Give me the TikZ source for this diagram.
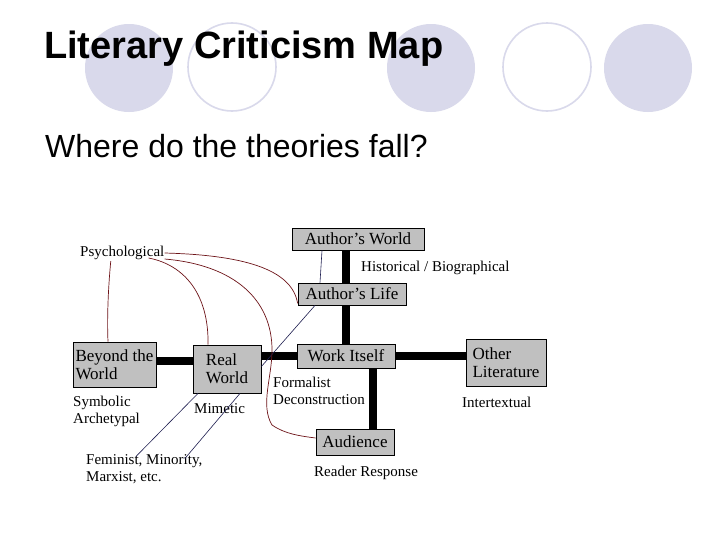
\documentclass[tikz,border=0pt]{standalone}
\usepackage{fontspec}
\setmainfont{Liberation Serif}
\newfontfamily\arialfont{Liberation Sans}
\usetikzlibrary{calc}
\pgfdeclarelayer{bg}
\pgfsetlayers{bg,main}
\definecolor{lav}{RGB}{217,217,235}
\definecolor{boxgray}{RGB}{192,192,192}
\definecolor{maroonline}{RGB}{110,20,25}
\definecolor{navyline}{RGB}{30,30,80}
\tikzset{
  box/.style={draw=black, line width=0.8pt, fill=boxgray, inner sep=0pt, font=\fontsize{17}{18}\selectfont, align=left},
  lbl/.style={inner sep=0pt, anchor=west, font=\fontsize{15}{17}\selectfont, align=left},
  bar/.style={line width=8pt, black},
  redline/.style={draw=maroonline, line width=0.7pt},
  blueline/.style={draw=navyline, line width=0.6pt},
  disc/.style={fill=lav, draw=none},
  ring/.style={draw=lav, line width=1.6pt},
}
\begin{document}
\begin{tikzpicture}[x=1pt,y=-1pt]
\useasboundingbox (0,0) rectangle (728,546);
\begin{pgfonlayer}{bg}
\fill[white] (0,0) rectangle (728,546);
\end{pgfonlayer}
% decorative circles
\fill[disc] (129,68) circle (44);
\draw[ring] (232,67) circle (44);
\fill[disc] (431,68) circle (44);
\draw[ring] (547,67) circle (44);
\fill[disc] (648,68) circle (44);
% titles
\node[inner sep=0pt, anchor=base west, font=\arialfont\bfseries\fontsize{38}{40}\selectfont] (title) at (44,58) {Literary Criticism Map};
\node[inner sep=0pt, anchor=base west, font=\arialfont\fontsize{32}{34}\selectfont] (sub) at (45,157) {Where do the theories fall?};
% boxes
\node[box, minimum width=132pt, minimum height=22pt] (aw) at (358,239) {Author’s World};
\node[box, minimum width=108pt, minimum height=22pt] (al) at (352,294) {Author’s Life};
\node[box, minimum width=98pt, minimum height=24pt] (wi) at (346,356) {Work Itself};
\node[box, minimum width=80pt, minimum height=47pt] (ol) at (506,362.5) {Other\\Literature};
\node[box, minimum width=78pt, minimum height=26pt] (au) at (355,442) {Audience};
\node[box, minimum width=83pt, minimum height=45pt] (bw) at (114.5,364.5) {Beyond the\\World};
\node[box, minimum width=68pt, minimum height=48pt] (rw) at (227,369) {Real\\World};
% labels
\node[lbl] (psy) at (80,253) {Psychological};
\node[lbl] (hist) at (361,268) {Historical / Biographical};
\node[lbl] (sym) at (73,411.5) {Symbolic\\Archetypal};
\node[lbl] (mim) at (194,409) {Mimetic};
\node[lbl] (fem) at (86,469.5) {Feminist, Minority,\\Marxist, etc.};
\node[lbl] (form) at (273,390.5) {Formalist\\Deconstruction};
\node[lbl] (inter) at (462,402) {Intertextual};
\node[lbl] (reader) at (314,473) {Reader Response};
% thick bars
\begin{pgfonlayer}{bg}
\draw[bar] (aw.south -| wi.north) -- (wi.north);
\draw[bar] ([yshift=3.5pt]bw.east) -- ([yshift=3.5pt]bw.east -| rw.west);
\draw[bar] (rw.east |- wi.west) -- (wi.west);
\draw[bar] (wi.east) -- (wi.east -| ol.west);
\draw[bar] ([xshift=27pt]wi.south) -- ([xshift=27pt]wi.south |- au.north);
\end{pgfonlayer}
% thin blue lines
\draw[blueline] ([xshift=-36pt]aw.south) -- ([xshift=-32pt]al.north);
\draw[blueline] ([xshift=-37pt]al.south) -- ([yshift=2.5pt]rw.east);
\draw[blueline] ([xshift=-29pt]rw.south) -- ([xshift=-8.5pt,yshift=-2pt]fem.north);
\draw[blueline] ([xshift=13pt]rw.south) -- ([xshift=40.5pt,yshift=-4pt]fem.north);
% maroon curves from Psychological
\draw[redline] ([xshift=-11.5pt,yshift=-1pt]psy.south) .. controls (108,290) and (107,320) .. ([xshift=-6.5pt]bw.north);
\draw[redline] ([xshift=-16pt,yshift=-5pt]psy.east) .. controls (185,265) and (209,295) .. ([xshift=-19pt]rw.north);
\draw[redline] (psy.east) .. controls (240,255) and (292,268) .. ([yshift=2pt]al.south west);
\draw[redline] ([yshift=-6pt]psy.east) .. controls (235,265) and (272,300) .. (272,350)
   .. controls (272,378) and (260,405) .. (272,425)
   .. controls (285,434) and (300,436) .. ([yshift=4pt]au.west);
\end{tikzpicture}
\end{document}
